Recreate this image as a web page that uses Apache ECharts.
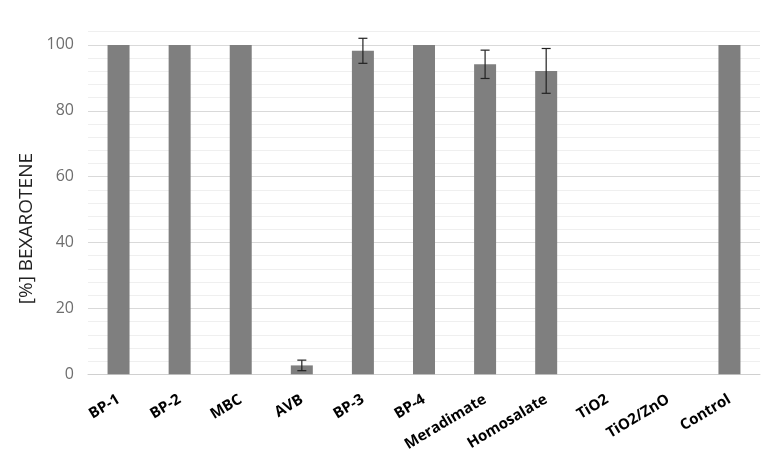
<!DOCTYPE html>
<html>
<head>
<meta charset="utf-8">
<script src="https://cdn.jsdelivr.net/npm/echarts@6/dist/echarts.min.js"></script>
<style>
  html, body { margin: 0; padding: 0; background: #fff; }
  #chart { width: 781px; height: 466px; }
</style>
</head>
<body>
<div id="chart"></div>
<script>
const categories = ['BP-1', 'BP-2', 'MBC', 'AVB', 'BP-3', 'BP-4', 'Meradimate', 'Homosalate', 'TiO2', 'TiO2/ZnO', 'Control'];
const values = [100, 100, 100, 2.7, 98.2, 100, 94.1, 92.1, 0, 0, 100];
// +/- error, 0 means no error bar drawn
const errors = [0, 0, 0, 1.6, 3.8, 0, 4.3, 6.8, 0, 0, 0];

const chart = echarts.init(document.getElementById('chart'));

const errData = categories.map((c, i) => [i, values[i], errors[i]]).filter(d => d[2] > 0);

chart.setOption({
  animation: false,
  grid: { left: 88, right: 21, top: 31.7, bottom: 91.7 },
  xAxis: {
    type: 'category',
    data: categories,
    axisLine: { lineStyle: { color: '#d0d0d0' } },
    axisTick: { show: false },
    axisLabel: {
      rotate: 31,
      margin: 24,
      color: '#000',
      fontWeight: 'bold',
      fontSize: 15,
      fontFamily: 'Open Sans',
      interval: 0
    }
  },
  yAxis: {
    type: 'value',
    min: 0,
    max: 104,
    interval: 4,
    axisLine: { show: false },
    axisTick: { show: false },
    splitLine: {
      lineStyle: { color: ['#d9d9d9', '#efefef', '#efefef', '#efefef', '#efefef'] }
    },
    axisLabel: {
      margin: 14,
      color: '#6e6e6e',
      fontSize: 16,
      fontFamily: 'Open Sans',
      formatter: v => (v % 20 === 0 ? String(v) : '')
    }
  },
  graphic: [{
    type: 'text',
    left: 17,
    top: 153,
    rotation: Math.PI / 2,
    style: {
      text: '[%] BEXAROTENE',
      fill: '#222',
      font: '19px "Open Sans"'
    }
  }],
  series: [
    {
      type: 'bar',
      data: values,
      barWidth: '36%',
      itemStyle: { color: '#7f7f7f' }
    },
    {
      type: 'custom',
      data: errData,
      z: 10,
      renderItem: (params, api) => {
        const x = api.value(0);
        const v = api.value(1);
        const e = api.value(2);
        const top = api.coord([x, v + e]);
        const bot = api.coord([x, v - e]);
        const hw = 4.5;
        const style = { stroke: '#222', lineWidth: 1.2 };
        return {
          type: 'group',
          children: [
            { type: 'line', shape: { x1: top[0], y1: top[1], x2: bot[0], y2: bot[1] }, style },
            { type: 'line', shape: { x1: top[0] - hw, y1: top[1], x2: top[0] + hw, y2: top[1] }, style },
            { type: 'line', shape: { x1: bot[0] - hw, y1: bot[1], x2: bot[0] + hw, y2: bot[1] }, style }
          ]
        };
      }
    }
  ]
});
</script>
</body>
</html>
